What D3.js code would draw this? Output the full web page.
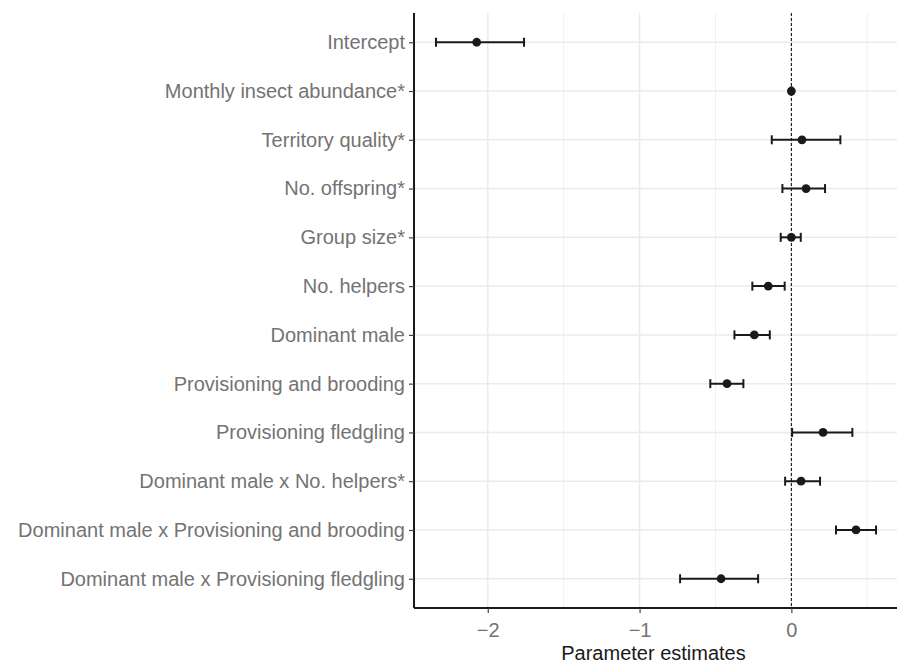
<!DOCTYPE html>
<html>
<head>
<meta charset="utf-8">
<script src="https://cdn.jsdelivr.net/npm/d3@7"></script>
<style>
  body { margin: 0; background: #fff; }
  svg { font-family: "Liberation Sans", Arial, sans-serif; }
</style>
</head>
<body>
<div id="chart"></div>
<script>
// Termes du modèle (de haut en bas)
const terms = [
  "Intercept",
  "Monthly insect abundance*",
  "Territory quality*",
  "No. offspring*",
  "Group size*",
  "No. helpers",
  "Dominant male",
  "Provisioning and brooding",
  "Provisioning fledgling",
  "Dominant male x No. helpers*",
  "Dominant male x Provisioning and brooding",
  "Dominant male x Provisioning fledgling"
];
// Estimations et intervalles
const estimates = [-2.073, 0.0, 0.070, 0.097, 0.0, -0.152, -0.244, -0.424, 0.209, 0.064, 0.426, -0.463];
const lowers    = [-2.341, -0.004, -0.129, -0.059, -0.070, -0.257, -0.375, -0.534, 0.005, -0.041, 0.294, -0.733];
const uppers    = [-1.761, 0.004, 0.323, 0.222, 0.062, -0.044, -0.142, -0.316, 0.402, 0.189, 0.558, -0.219];
const xTicks = [-2, -1, 0];
const xMinor = [-1.5, -0.5, 0.5];

const data = terms.map((t, i) => ({ term: t, est: estimates[i], lo: lowers[i], hi: uppers[i] }));

const W = 901, H = 664;
const margin = { top: 13, right: 4, bottom: 56, left: 414 };
const width = W - margin.left - margin.right;
const height = H - margin.top - margin.bottom;

const svg = d3.select("#chart").append("svg")
  .attr("width", W).attr("height", H);
const g = svg.append("g")
  .attr("transform", "translate(" + margin.left + "," + margin.top + ")");

const x = d3.scaleLinear().domain([-2.486, 0.696]).range([0, width]);
const y = d3.scalePoint().domain(terms).range([0, height]).padding(0.6);

// Grille
g.selectAll(".minor").data(xMinor).enter().append("line")
  .attr("x1", d => x(d)).attr("x2", d => x(d))
  .attr("y1", 0).attr("y2", height)
  .attr("stroke", "#f0f0f0").attr("stroke-width", 1);
g.selectAll(".major").data(xTicks).enter().append("line")
  .attr("x1", d => x(d)).attr("x2", d => x(d))
  .attr("y1", 0).attr("y2", height)
  .attr("stroke", "#ebebeb").attr("stroke-width", 1.5);
g.selectAll(".hgrid").data(terms).enter().append("line")
  .attr("x1", 0).attr("x2", width)
  .attr("y1", d => y(d)).attr("y2", d => y(d))
  .attr("stroke", "#ebebeb").attr("stroke-width", 1.5);

// Ligne de référence à zéro
g.append("line")
  .attr("x1", x(0)).attr("x2", x(0))
  .attr("y1", 0).attr("y2", height)
  .attr("stroke", "#000").attr("stroke-width", 1)
  .attr("stroke-dasharray", "3,2");

// Barres d'erreur
const capH = 4.5;
const eb = g.selectAll(".eb").data(data).enter().append("g")
  .attr("stroke", "#1a1a1a").attr("stroke-width", 2);
eb.append("line")
  .attr("x1", d => x(d.lo)).attr("x2", d => x(d.hi))
  .attr("y1", d => y(d.term)).attr("y2", d => y(d.term));
eb.append("line")
  .attr("x1", d => x(d.lo)).attr("x2", d => x(d.lo))
  .attr("y1", d => y(d.term) - capH).attr("y2", d => y(d.term) + capH);
eb.append("line")
  .attr("x1", d => x(d.hi)).attr("x2", d => x(d.hi))
  .attr("y1", d => y(d.term) - capH).attr("y2", d => y(d.term) + capH);

// Points
g.selectAll(".dot").data(data).enter().append("circle")
  .attr("cx", d => x(d.est)).attr("cy", d => y(d.term))
  .attr("r", 4.4).attr("fill", "#1a1a1a");

// Axes
const xAxis = g.append("g")
  .attr("transform", "translate(0," + height + ")")
  .call(d3.axisBottom(x).tickValues(xTicks).tickSize(5).tickPadding(10)
    .tickFormat(d => d < 0 ? "\u2212" + Math.abs(d) : d));
const yAxis = g.append("g")
  .call(d3.axisLeft(y).tickSize(5).tickPadding(4));

[xAxis, yAxis].forEach(a => {
  a.select(".domain").attr("stroke", "#1a1a1a").attr("stroke-width", 2);
  a.selectAll(".tick line").attr("stroke", "#444").attr("stroke-width", 1.2);
  a.selectAll(".tick text").attr("fill", "#737373").style("font-size", "20px");
});
yAxis.select(".domain").attr("d", "M0,0V" + height);
xAxis.select(".domain").attr("d", "M0,0H" + width);

// Titre de l'axe
svg.append("text")
  .attr("x", margin.left + width / 2 - 2).attr("y", H - 4)
  .attr("text-anchor", "middle")
  .attr("fill", "#1a1a1a").style("font-size", "20px")
  .text("Parameter estimates");
</script>
</body>
</html>
